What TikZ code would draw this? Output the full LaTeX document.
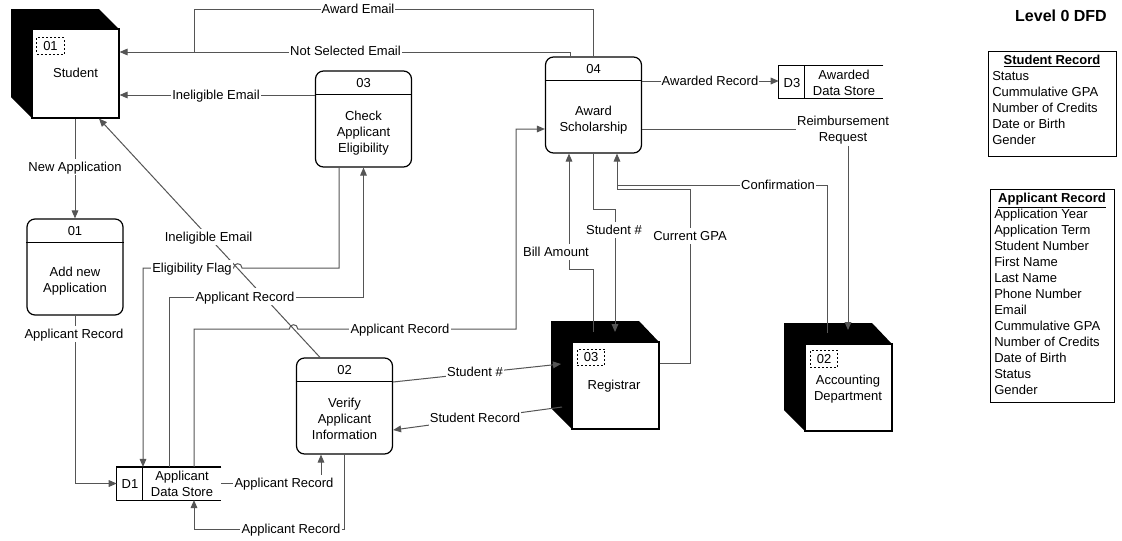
\documentclass[tikz,border=0pt]{standalone}
\usepackage{fontspec}
\setmainfont{Liberation Sans}
\usetikzlibrary{arrows.meta,calc}
\definecolor{linegray}{RGB}{85,85,85}
\newcommand\dfdfont{\fontsize{9.75pt}{12pt}\selectfont}
\begin{document}
\begin{tikzpicture}[x=0.75pt,y=-0.75pt,
  flow/.style={draw=linegray, line width=0.75pt},
  arr/.style={flow, -{Triangle[length=6pt,width=5pt]}, fill=none},
  lbl/.style={fill=white, inner sep=0.8pt, font=\dfdfont, text=black, text height=9pt, text depth=2pt},
  proc/.style={draw=black, line width=0.9pt, rounded corners=6pt, minimum width=72pt, minimum height=72pt, inner sep=0pt, fill=white},
  ent/.style={draw=black, line width=0.9pt, fill=white, inner sep=0pt},
  txt/.style={font=\dfdfont, align=center, inner sep=0pt},
  idbox/.style={draw=black, dash pattern=on 1.5pt off 1.5pt, line width=0.6pt, minimum width=20.5pt, minimum height=12.5pt, inner sep=0pt, font=\dfdfont},
  hdr/.style={draw=black, line width=0.9pt},
  store/.style={minimum width=78pt, minimum height=24.5pt, inner sep=0pt},
  rec/.style={anchor=base west, inner sep=0pt, font=\dfdfont}
]
\fill[white] (0,0) rectangle (1122,540);
\useasboundingbox (0,0) rectangle (1122,540);

% ---------- external entities ----------
\fill[black] (11,9) -- (99,9) -- (119,29) -- (119,118) -- (32,118) -- (11,97) -- cycle;
\node[ent, minimum width=65.25pt, minimum height=66.75pt] (student) at (75.5,73.5) {};
\node[idbox] (studentid) at (50.5,46) {01};
\node[txt] (studentname) at (75.5,73) {Student};

\fill[black] (551,321) -- (639,321) -- (659,342) -- (659,429) -- (572,429) -- (551,408) -- cycle;
\node[ent, minimum width=65.25pt, minimum height=65.25pt] (registrar) at (615.5,385.5) {};
\node[idbox] (registrarid) at (591,357.5) {03};
\node[txt] (registrarname) at (614,386) {Registrar};

\fill[black] (784,323) -- (872,323) -- (892,344) -- (892,431) -- (805,431) -- (784,410) -- cycle;
\node[ent, minimum width=65.25pt, minimum height=65.25pt] (accounting) at (848.5,387.5) {};
\node[idbox] (accountingid) at (824,359) {02};
\node[txt] (accountingname) at (848,389) {Accounting\\Department};

% ---------- processes ----------
\node[proc] (p01) at (75,267) {};
\draw[hdr] ($(p01.north west)+(0,24)$) -- ($(p01.north east)+(0,24)$);
\node[txt] (p01num) at (75,231.5) {01};
\node[txt] (p01txt) at (75,281) {Add new\\Application};

\node[proc] (p02) at (344.5,406) {};
\draw[hdr] ($(p02.north west)+(0,24)$) -- ($(p02.north east)+(0,24)$);
\node[txt] (p02num) at (344.5,370.5) {02};
\node[txt] (p02txt) at (344.5,418.5) {Verify\\Applicant\\Information};

\node[proc] (p03) at (363.5,119) {};
\draw[hdr] ($(p03.north west)+(0,24)$) -- ($(p03.north east)+(0,24)$);
\node[txt] (p03num) at (363.5,83.5) {03};
\node[txt] (p03txt) at (363.5,133) {Check\\Applicant\\Eligibility};

\node[proc] (p04) at (593.5,105) {};
\draw[hdr] ($(p04.north west)+(0,24)$) -- ($(p04.north east)+(0,24)$);
\node[txt] (p04num) at (593.5,69.5) {04};
\node[txt] (p04txt) at (593.5,120) {Award\\Scholarship};

% ---------- data stores ----------
\node[store] (d1) at (169,483.5) {};
\draw[hdr] (d1.north east) -- (d1.north west) -- (d1.south west) -- (d1.south east);
\draw[hdr] ($(d1.north west)+(26,0)$) -- ($(d1.south west)+(26,0)$);
\node[txt] (d1id) at (130,484) {D1};
\node[txt] (d1txt) at (182,484) {Applicant\\Data Store};

\node[store, minimum height=24pt] (d3) at (831,82) {};
\draw[hdr] (d3.north east) -- (d3.north west) -- (d3.south west) -- (d3.south east);
\draw[hdr] ($(d3.north west)+(26,0)$) -- ($(d3.south west)+(26,0)$);
\node[txt] (d3id) at (792,83) {D3};
\node[txt] (d3txt) at (844,83) {Awarded\\Data Store};

% ---------- connectors ----------
% Award Email
\coordinate (ae1) at (593,9);
\coordinate (ae2) at (194,9);
\coordinate (ae3) at (194,52);
\draw[flow] (p04.north -| ae1) -- (ae1) -- (ae2) -- (ae3);
% Not Selected Email
\coordinate (ns1) at (570,52);
\draw[arr] (p04.north -| ns1) -- (ns1) -- (student.east |- ns1);
% Ineligible Email from 03
\coordinate (ie1) at (315,95);
\draw[arr] (p03.west |- ie1) -- (student.east |- ie1);
% New Application
\draw[arr] (p01.north |- student.south) -- (p01.north);
% Applicant Record 01 -> D1
\draw[arr] (p01.south) -- (p01.south |- d1.west) -- (d1.west);
% Eligibility Flag
\coordinate (ef1) at (339,268);
\coordinate (ef2) at (143,268);
\draw[arr] (p03.south -| ef1) -- (ef1) -- (242,268) .. controls (242,262.3) and (233.5,262.3) .. (233.5,268) -- (ef2) -- (d1.north -| ef2);
% Applicant Record D1 -> 03
\coordinate (ar2) at (169,297);
\draw[arr] (d1.north -| ar2) -- (ar2) -- (ar2 -| p03.south) -- (p03.south);
% Applicant Record D1 -> 04
\coordinate (ar3a) at (194,329);
\coordinate (ar3b) at (516,329);
\coordinate (ar3c) at (516,129);
\draw[arr] (d1.north -| ar3a) -- (ar3a) -- (289.3,329) .. controls (289.3,323.3) and (297.8,323.3) .. (297.8,329) -- (ar3b) -- (ar3c) -- (p04.west |- ar3c);
% Applicant Record D1 -> 02
\coordinate (ar4) at (321,483.5);
\draw[arr] (d1.east) -- (ar4) -- (p02.south -| ar4);
% Applicant Record 02 -> D1
\coordinate (ar5a) at (344,529);
\coordinate (ar5b) at (194,529);
\draw[arr] (p02.south -| ar5a) -- (ar5a) -- (ar5b) -- (d1.south -| ar5b);
% Ineligible Email 02 -> Student (diagonal)
\coordinate (dg1) at (320,0);
\coordinate (dg2) at (99,0);
\draw[arr] (p02.north -| dg1) -- (student.south -| dg2);
% Student # 02 -> Registrar
\coordinate (sn1) at (0,382);
\coordinate (sn2) at (561,364);
\draw[arr] (p02.east |- sn1) -- (sn2);
% Student Record Registrar -> 02
\coordinate (sr1) at (562,407);
\coordinate (sr2) at (0,430);
\draw[arr] (sr1) -- (p02.east |- sr2);
% Bill Amount
\coordinate (ba1) at (593,332);
\coordinate (ba2) at (593,269);
\coordinate (ba3) at (569,269);
\draw[arr] (ba1) -- (ba2) -- (ba3) -- (p04.south -| ba3);
% Student # 04 -> Registrar
\coordinate (sn3a) at (593,209);
\coordinate (sn3b) at (615,209);
\coordinate (sn3c) at (615,332);
\draw[arr] (p04.south -| sn3a) -- (sn3a) -- (sn3b) -- (sn3c);
% Current GPA
\coordinate (cg1) at (0,363);
\coordinate (cg2) at (690,363);
\coordinate (cg3) at (690,189);
\coordinate (cg4) at (617,189);
\draw[arr] (registrar.east |- cg1) -- (cg2) -- (cg3) -- (cg4) -- (p04.south -| cg4);
% Confirmation
\coordinate (cf1) at (827,333);
\coordinate (cf2) at (827,185);
\coordinate (cf3) at (617,185);
\draw[flow] (cf1) -- (cf2) -- (cf3);
% Reimbursement Request
\coordinate (rr1) at (848,129);
\coordinate (rr2) at (848,330);
\draw[arr] (p04.east |- rr1) -- (rr1) -- (rr2);
% Awarded Record
\coordinate (aw1) at (0,81);
\draw[arr] (p04.east |- aw1) -- (d3.west |- aw1);

% ---------- connector labels ----------
\node[lbl] (lae) at (358,9) {Award Email};
\node[lbl] (lns) at (345.5,51) {Not Selected Email};
\node[lbl] (lie) at (216,95) {Ineligible Email};
\node[lbl] (lna) at (75,167) {New Application};
\node[lbl] (lar1) at (74,334) {Applicant Record};
\node[lbl] (lef) at (192,268) {Eligibility Flag};
\node[lbl] (lar2) at (245,296.5) {Applicant Record};
\node[lbl] (lar3) at (400,328.5) {Applicant Record};
\node[lbl] (lar4) at (284,483) {Applicant Record};
\node[lbl] (lar5) at (291,528.5) {Applicant Record};
\node[lbl] (ldg) at (208.6,237) {Ineligible Email};
\node[lbl] (lsn1) at (475,371.5) {Student \#};
\node[lbl] (lsr) at (475,417.5) {Student Record};
\node[lbl] (lba) at (556,252) {Bill Amount};
\node[lbl] (lsn2) at (614,230) {Student \#};
\node[lbl] (lcg) at (690,236) {Current GPA};
\node[lbl] (lcf) at (778,184.5) {Confirmation};
\node[fill=white, inner sep=0.8pt, font=\dfdfont, align=center] (lrr) at (843,130.5) {Reimbursement\\Request};
\node[lbl] (law) at (710,80.5) {Awarded Record};

% ---------- title ----------
\node[inner sep=0pt, font=\bfseries\fontsize{12pt}{14pt}\selectfont] (title) at (1061,16) {Level 0 DFD};

% ---------- record definitions ----------
\node[draw=black, line width=0.75pt, minimum width=96pt, minimum height=78.75pt, anchor=north west, inner sep=0pt] (srbox) at (988,51) {};
\node[inner sep=0pt, anchor=base, font=\dfdfont\bfseries] (srtitle) at (1052,64) {\underline{Student Record}};
\foreach \t [count=\i from 0] in {Status,Cummulative GPA,Number of Credits,Date or Birth,Gender}
  \node[rec] (sr\i) at (992,80.3+16*\i) {\t};

\node[draw=black, line width=0.75pt, minimum width=93pt, minimum height=159.75pt, anchor=north west, inner sep=0pt] (arbox) at (990,189) {};
\node[inner sep=0pt, anchor=base, font=\dfdfont\bfseries] (artitle) at (1052,202.5) {\underline{Applicant Record}};
\foreach \t [count=\i from 0] in {Application Year,Application Term,Student Number,First Name,Last Name,Phone Number,Email,Cummulative GPA,Number of Credits,Date of Birth,Status,Gender}
  \node[rec] (ar\i) at (994,218.3+16*\i) {\t};
\end{tikzpicture}
\end{document}
